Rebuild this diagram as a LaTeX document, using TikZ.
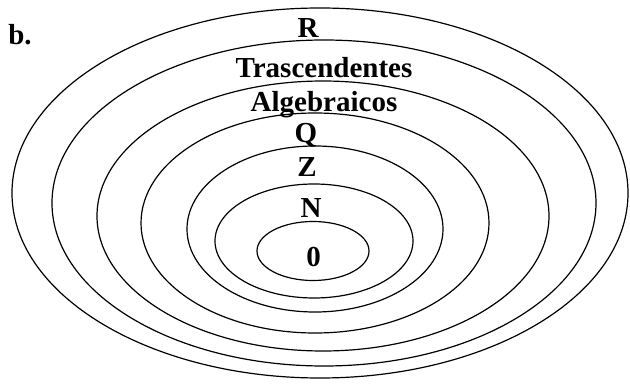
\documentclass[tikz,border=0pt]{standalone}
\usepackage{fontspec}
\setmainfont{Liberation Serif}
\usepackage{tikz}
\usetikzlibrary{positioning}
\tikzset{
  ring/.style={draw=black,line width=1.2pt},
  setlbl/.style={font=\fontsize{29}{29}\selectfont\bfseries,inner sep=0pt,anchor=base},
}
\begin{document}
\begin{tikzpicture}[x=1pt,y=-1pt]
  \useasboundingbox (0,0) rectangle (630,385);
  % nested sets, outermost first: centre x, centre y, half width, half height
  \foreach \cx/\cy/\rx/\ry in {320/193/308/185, 324/203/272/163, 323/216/226/135,
      315/223/174/110, 315/229/128/83, 314/241/99/57, 313/251/56/29.5}
    \draw[ring] (\cx,\cy) ellipse[x radius=\rx pt,y radius=\ry pt];
  \node[setlbl] (tag) at (20,45) {b.};
  \node[setlbl] (R) at (308,38) {R};
  \node[setlbl] (T) at (324,78) {Trascendentes};
  \node[setlbl] (A) at (324,112) {Algebraicos};
  \node[setlbl] (Q) at (306,143) {Q};
  \node[setlbl] (Z) at (307,177) {Z};
  \node[setlbl] (N) at (311,218) {N};
  \node[setlbl] (zero) at (313.5,266) {0};
\end{tikzpicture}
\end{document}
